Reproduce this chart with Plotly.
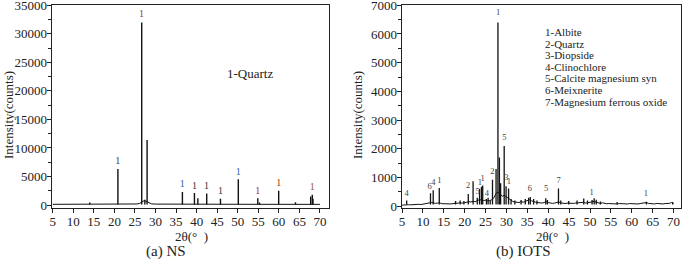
import plotly.graph_objects as go

# ---------------- NS (left) ----------------
ns_base_x = [5, 8, 10, 13, 15, 18, 20, 22, 24, 25.5, 26.2, 27.0, 27.3, 27.6, 28.3, 29, 30, 33, 36, 40, 45, 50, 55, 60, 64, 66, 67.5, 68.5, 70]
ns_base_y = [120, 110, 120, 130, 120, 120, 130, 140, 150, 180, 300, 600, 800, 700, 400, 200, 160, 140, 130, 130, 120, 120, 120, 120, 130, 120, 200, 200, 110]
ns_peak_x = [14.0, 20.85, 26.64, 27.4, 27.95, 36.54, 39.47, 40.3, 42.45, 45.8, 50.14, 54.87, 55.3, 59.96, 64.04, 67.74, 68.14, 68.3]
ns_peak_y = [450, 6300, 32000, 900, 11400, 2300, 2100, 1200, 2000, 1100, 4500, 1200, 450, 2500, 500, 1500, 1800, 1100]
ns_lab_x = [20.8, 26.6, 36.5, 39.5, 42.4, 45.8, 50.1, 54.9, 60.0, 68.1]
ns_lab_y = [7580, 33400, 3620, 3200, 3200, 2450, 5720, 2450, 3800, 3030]
ns_lab_t = ["1"] * 10
ns_lab_c = ["#34405a", "#8b3a2a", "#2a5caa", "#333333", "#333333", "#333333", "#2a5caa", "#a03030", "#8b4513", "#a0522d"]

# ---------------- IOTS (right) ----------------
iots_base_x = [5.0, 5.5, 6.0, 6.5, 7.0, 7.5, 8.0, 8.5, 9.0, 9.5, 10.0, 10.5, 11.0, 11.5, 12.0, 12.5, 13.0, 13.5, 14.0, 14.5,
               15.0, 15.5, 16.0, 16.5, 17.0, 17.5, 18.0, 18.5, 19.0, 19.5, 20.0, 20.5, 21.0, 21.5, 22.0, 22.5, 23.0, 23.5, 24.0, 24.5,
               25.0, 25.5, 26.0, 26.5, 27.0, 27.5, 28.0, 28.5, 29.0, 29.5, 30.0, 30.5, 31.0, 31.5, 32.0, 32.5, 33.0, 33.5, 34.0, 34.5,
               35.0, 35.5, 36.0, 36.5, 37.0, 37.5, 38.0, 38.5, 39.0, 39.5, 40.0, 40.5, 41.0, 41.5, 42.0, 42.5, 43.0, 43.5, 44.0, 44.5,
               45.0, 45.5, 46.0, 46.5, 47.0, 47.5, 48.0, 48.5, 49.0, 49.5, 50.0, 50.5, 51.0, 51.5, 52.0, 52.5, 53.0, 53.5, 54.0, 54.5,
               55.0, 55.5, 56.0, 56.5, 57.0, 57.5, 58.0, 58.5, 59.0, 59.5, 60.0, 60.5, 61.0, 61.5, 62.0, 62.5, 63.0, 63.5, 64.0, 64.5,
               65.0, 65.5, 66.0, 66.5, 67.0, 67.5, 68.0, 68.5, 69.0, 69.5, 70.0]
iots_base_y = [40, 50, 60, 55, 50, 60, 65, 55, 70, 60, 75, 70, 90, 120, 130, 120, 100, 110, 120, 90,
               80, 75, 85, 80, 90, 100, 110, 95, 120, 110, 130, 140, 160, 150, 170, 160, 200, 230, 220, 200,
               210, 190, 200, 230, 300, 450, 500, 420, 350, 380, 330, 260, 200, 170, 150, 140, 130, 160, 140, 170,
               200, 230, 190, 150, 140, 130, 120, 110, 130, 160, 130, 110, 100, 110, 130, 150, 120, 100, 95, 110,
               100, 90, 100, 110, 120, 130, 150, 140, 110, 120, 140, 160, 170, 140, 110, 100, 120, 100, 90, 95,
               85, 100, 90, 80, 95, 85, 100, 90, 80, 95, 85, 100, 90, 80, 95, 100, 110, 130, 100, 85,
               95, 80, 100, 85, 90, 80, 95, 85, 100, 130, 90]
iots_peak_x = [6.1, 11.8, 12.45, 13.9, 17.8, 18.9, 19.8, 20.85, 22.0, 23.0, 23.55, 24.0, 24.3, 25.2, 25.6, 26.1, 26.65,
               27.5, 27.95, 28.3, 28.6, 29.45, 29.9, 30.5, 31.1, 32.0, 33.5, 34.5, 35.3, 35.7, 36.5, 37.3, 39.4, 39.8,
               42.45, 43.0, 44.9, 46.9, 48.5, 49.4, 50.5, 51.0, 51.5, 52.5, 56.5, 63.5, 69.8]
iots_peak_y = [200, 450, 560, 640, 180, 200, 180, 430, 870, 300, 600, 680, 720, 250, 300, 200, 920,
               1300, 6400, 1700, 800, 2100, 700, 620, 250, 200, 220, 250, 300, 320, 250, 200, 280, 220,
               620, 200, 180, 200, 270, 200, 220, 280, 230, 170, 150, 160, 150]
iots_lab_x = [6.1, 11.6, 12.5, 13.9, 20.8, 23.1, 23.6, 24.3, 25.3, 26.6, 28.0, 29.5, 30.0, 30.6, 35.6, 39.5, 42.5, 50.4, 63.4]
iots_lab_y = [440, 690, 800, 900, 725, 500, 830, 950, 420, 1190, 6720, 2390, 980, 860, 610, 590, 900, 460, 440]
iots_lab_t = ["4", "6", "4", "1", "2", "5", "1", "1", "4", "2", "1", "5", "3", "1", "6", "5", "7", "1", "1"]

legend_lines = ["1-Albite", "2-Quartz", "3-Diopside", "4-Clinochlore", "5-Calcite magnesium syn",
                "6-Meixnerite", "7-Magnesium ferrous oxide"]

x_ticks = [5, 10, 15, 20, 25, 30, 35, 40, 45, 50, 55, 60, 65, 70]

FONT = "Liberation Serif"
INK = "#222222"
NS_STICK_BASE = 100
IOTS_STICK_BASE = 60


def sticks(xs, ys, base):
    sx, sy = [], []
    for x, y in zip(xs, ys):
        sx += [x, x, None]
        sy += [base, y, None]
    return sx, sy


fig = go.Figure()
line = dict(color="#111111", width=1)

fig.add_trace(go.Scatter(x=ns_base_x, y=ns_base_y, mode="lines", line=line, xaxis="x", yaxis="y", hoverinfo="skip"))
sx, sy = sticks(ns_peak_x, ns_peak_y, NS_STICK_BASE)
fig.add_trace(go.Scatter(x=sx, y=sy, mode="lines", line=dict(color="#111111", width=1.4), xaxis="x", yaxis="y", hoverinfo="skip"))

fig.add_trace(go.Scatter(x=iots_base_x, y=iots_base_y, mode="lines", line=line, xaxis="x2", yaxis="y2", hoverinfo="skip"))
sx, sy = sticks(iots_peak_x, iots_peak_y, IOTS_STICK_BASE)
fig.add_trace(go.Scatter(x=sx, y=sy, mode="lines", line=dict(color="#111111", width=1.3), xaxis="x2", yaxis="y2", hoverinfo="skip"))

fig.add_trace(go.Scatter(x=ns_lab_x, y=ns_lab_y, mode="text", text=ns_lab_t, xaxis="x", yaxis="y",
                         textfont=dict(family=FONT, size=10, color=ns_lab_c), hoverinfo="skip"))
fig.add_trace(go.Scatter(x=iots_lab_x, y=iots_lab_y, mode="text", text=iots_lab_t, xaxis="x2", yaxis="y2",
                         textfont=dict(family=FONT, size=8.5, color="#444444"), hoverinfo="skip"))

ax_common = dict(showline=True, mirror=True, linecolor=INK, linewidth=1, ticks="outside", ticklen=4,
                 tickcolor=INK, showgrid=False, zeroline=False, automargin=False, ticklabeloverflow="allow",
                 tickfont=dict(family=FONT, size=13, color=INK))

fig.update_layout(
    width=685, height=260, margin=dict(l=0, r=0, t=0, b=0),
    paper_bgcolor="white", plot_bgcolor="white", showlegend=False,
    xaxis=dict(ax_common, domain=[0.0752, 0.4803], range=[4.7, 72.2], tickvals=x_ticks, anchor="y",
               ticklabelstandoff=-3),
    yaxis=dict(ax_common, domain=[0.2, 0.9808], range=[-525, 35050], dtick=5000, tickformat="d", anchor="x",
               ticklabelstandoff=-3,
               minor=dict(ticks="outside", ticklen=2.5, dtick=2500, tickcolor=INK)),
    xaxis2=dict(ax_common, domain=[0.5864, 0.9942], range=[4.9, 71.8], tickvals=x_ticks, anchor="y2",
                ticklabelstandoff=-3),
    yaxis2=dict(ax_common, domain=[0.2, 0.9808], range=[-60, 7010], dtick=1000, tickformat="d", anchor="x2",
                ticklabelstandoff=-3,
                minor=dict(ticks="outside", ticklen=2.5, dtick=500, tickcolor=INK)),
)

ann = []
tfont = dict(family=FONT, size=13, color=INK)
ann.append(dict(text="Intensity(counts)", x=8 / 685, y=1 - 115 / 260, xref="paper", yref="paper",
                textangle=-90, showarrow=False, font=tfont, xanchor="center", yanchor="middle"))
ann.append(dict(text="Intensity(counts)", x=357 / 685, y=1 - 115 / 260, xref="paper", yref="paper",
                textangle=-90, showarrow=False, font=tfont, xanchor="center", yanchor="middle"))
ann.append(dict(text="2θ(°  )", x=191 / 685, y=1 - 236 / 260, xref="paper", yref="paper",
                showarrow=False, font=tfont, xanchor="center", yanchor="middle"))
ann.append(dict(text="2θ(°  )", x=552 / 685, y=1 - 236 / 260, xref="paper", yref="paper",
                showarrow=False, font=tfont, xanchor="center", yanchor="middle"))
ann.append(dict(text="(a) NS", x=166 / 685, y=1 - 251 / 260, xref="paper", yref="paper",
                showarrow=False, font=dict(family=FONT, size=15, color=INK), xanchor="center", yanchor="middle"))
ann.append(dict(text="(b) IOTS", x=523 / 685, y=1 - 251 / 260, xref="paper", yref="paper",
                showarrow=False, font=dict(family=FONT, size=15, color=INK), xanchor="center", yanchor="middle"))
ann.append(dict(text="1-Quartz", x=250 / 685, y=1 - 73 / 260, xref="paper", yref="paper",
                showarrow=False, font=tfont, xanchor="center", yanchor="middle"))
for i, t in enumerate(legend_lines):
    ann.append(dict(text=t, x=543 / 685, y=1 - (32 + i * 11.6) / 260, xref="paper", yref="paper",
                    showarrow=False, font=dict(family=FONT, size=11, color=INK), xanchor="left", yanchor="middle"))
fig.update_layout(annotations=ann)

fig.write_html("out.html", config={"displayModeBar": False},
               post_script="document.body.style.margin='0px';")
